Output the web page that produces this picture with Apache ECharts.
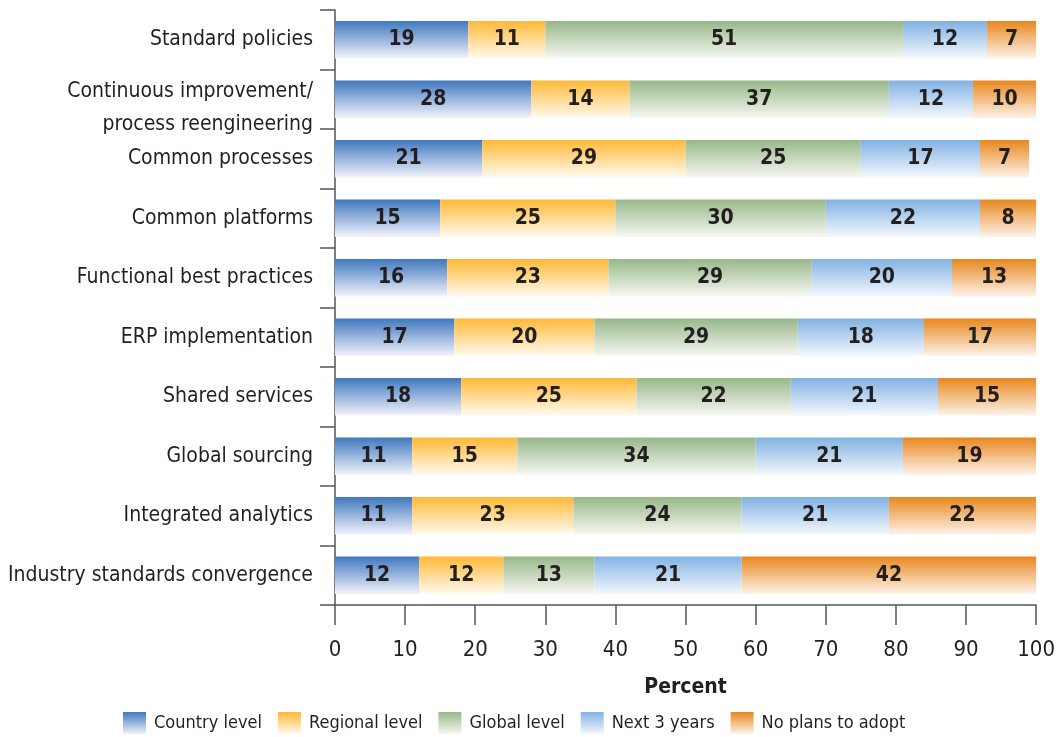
<!DOCTYPE html>
<html>
<head>
<meta charset="utf-8">
<script src="https://cdn.jsdelivr.net/npm/echarts@6/dist/echarts.min.js"></script>
<style>
  html, body { margin: 0; padding: 0; background: #fff; }
  #chart { width: 1058px; height: 737px; }
</style>
</head>
<body>
<div id="chart"></div>
<script>
// Adoption level of standardisation initiatives (percent of respondents)
const categories = [
  'Standard policies',
  'Continuous improvement/\nprocess reengineering',
  'Common processes',
  'Common platforms',
  'Functional best practices',
  'ERP implementation',
  'Shared services',
  'Global sourcing',
  'Integrated analytics',
  'Industry standards convergence'
];
const seriesNames = ['Country level', 'Regional level', 'Global level', 'Next 3 years', 'No plans to adopt'];
const countryLevel  = [19, 28, 21, 15, 16, 17, 18, 11, 11, 12];
const regionalLevel = [11, 14, 29, 25, 23, 20, 25, 15, 23, 12];
const globalLevel   = [51, 37, 25, 30, 29, 29, 22, 34, 24, 13];
const next3Years    = [12, 12, 17, 22, 20, 18, 21, 21, 21, 21];
const noPlans       = [7, 10, 7, 8, 13, 17, 15, 19, 22, 42];
const xTicks = [0, 10, 20, 30, 40, 50, 60, 70, 80, 90, 100];

const FONT = '"DejaVu Sans Condensed", "Liberation Sans Narrow", "Liberation Sans", sans-serif';
const TEXT = '#231f20';
const topColors = ['#3f78bf', '#ffb936', '#98b789', '#82b2e2', '#e8871e'];
const bottomColors = ['#f3f3fb', '#fffaf0', '#f6f8f2', '#f4f8fd', '#fdf3ea'];

function grad(i) {
  return new echarts.graphic.LinearGradient(0, 0, 0, 1, [
    { offset: 0, color: topColors[i] },
    { offset: 1, color: bottomColors[i] }
  ]);
}

const values = [countryLevel, regionalLevel, globalLevel, next3Years, noPlans];

const series = values.map((arr, i) => ({
  name: seriesNames[i],
  type: 'bar',
  stack: 'total',
  barWidth: '63%',
  clip: true,
  data: arr,
  itemStyle: { color: grad(i) },
  label: {
    show: true,
    position: 'inside',
    fontFamily: FONT,
    fontWeight: 'bold',
    fontSize: 21,
    color: TEXT
  },
  emphasis: { disabled: true }
}));

// A wrapped category name gets a tall first line and a short second line,
// so the pair sits a little below the bar centre with wide spacing.
function yLabel(value) {
  const parts = value.split('\n');
  if (parts.length < 2) return value;
  return '{l1|' + parts[0] + '}\n{l2|' + parts[1] + '}';
}
const lineStyle = { fontFamily: FONT, fontSize: 21, color: TEXT, align: 'right' };

const chart = echarts.init(document.getElementById('chart'), null, { renderer: 'canvas' });
chart.setOption({
  animation: false,
  backgroundColor: '#ffffff',
  grid: { left: 335, right: 20, top: 10, bottom: 132, containLabel: false },
  legend: {
    bottom: 1,
    left: 121,
    padding: 2,
    itemWidth: 23,
    itemHeight: 22,
    itemGap: 16,
    icon: 'rect',
    textStyle: { fontFamily: FONT, fontSize: 18, color: TEXT, padding: [0, 0, 0, 3] },
    data: seriesNames.map((n, i) => ({ name: n, itemStyle: { color: grad(i) } }))
  },
  xAxis: {
    type: 'value',
    min: xTicks[0],
    max: xTicks[xTicks.length - 1],
    interval: 10,
    name: 'Percent',
    nameLocation: 'middle',
    nameGap: 72,
    nameTextStyle: { fontFamily: FONT, fontWeight: 'bold', fontSize: 21, color: TEXT },
    axisLine: { show: true, lineStyle: { color: '#555', width: 1.5 } },
    axisTick: { show: true, length: 20, lineStyle: { color: '#555', width: 1.5 } },
    axisLabel: { fontFamily: FONT, fontSize: 22, color: TEXT, margin: 34 },
    splitLine: { show: false }
  },
  yAxis: {
    type: 'category',
    inverse: true,
    data: categories,
    axisLine: { show: true, lineStyle: { color: '#555', width: 1.5 } },
    axisTick: { show: true, length: 15, lineStyle: { color: '#555', width: 1.5 } },
    axisLabel: {
      fontFamily: FONT, fontSize: 21, color: TEXT, margin: 22,
      formatter: yLabel,
      rich: {
        l1: Object.assign({ lineHeight: 50 }, lineStyle),
        l2: Object.assign({ lineHeight: 16 }, lineStyle)
      }
    },
    splitLine: { show: false }
  },
  series: series
});
</script>
</body>
</html>
